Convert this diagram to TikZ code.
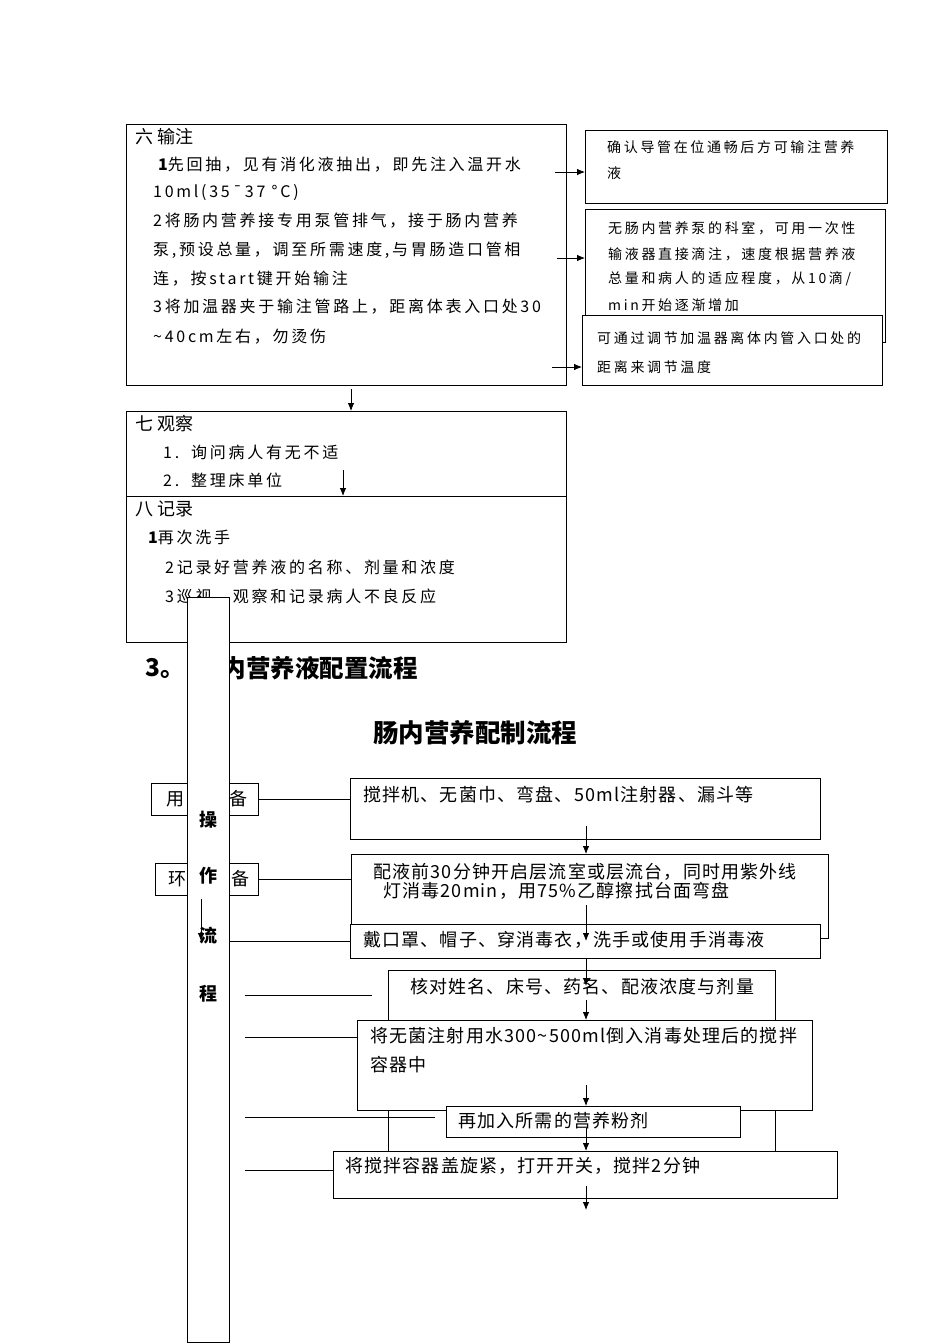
\documentclass[tikz,border=0pt]{standalone}
\usepackage{fontspec}
\usepackage{tikz}
\usetikzlibrary{arrows.meta,positioning}
\newfontfamily\cjk{Noto Sans CJK SC}
\newfontfamily\cjkwide[LetterSpace=17]{Noto Sans CJK SC}
\newfontfamily\cjknote[LetterSpace=19]{Noto Sans CJK SC}
\newfontfamily\cjkbody[LetterSpace=6.5]{Noto Sans CJK SC}

\begin{document}
\begin{tikzpicture}[x=1pt,y=-1pt,
		box/.style={draw,line width=0.8pt,anchor=north west,inner sep=0pt,outer sep=0pt},
		wbox/.style={box,fill=white},
		head/.style={anchor=west,inner sep=0pt,font=\cjk\fontsize{18}{18}\selectfont},
		txt/.style={anchor=west,inner sep=0pt,font=\cjkwide\fontsize{16}{16}\selectfont},
		note/.style={anchor=west,inner sep=0pt,font=\cjknote\fontsize{14}{14}\selectfont},
		body/.style={anchor=west,inner sep=0pt,font=\cjkbody\fontsize{18}{18}\selectfont},
		label/.style={anchor=west,inner sep=0pt,font=\cjkwide\fontsize{18}{18}\selectfont},
		title/.style={inner sep=0pt,font=\cjk\bfseries\fontsize{24.5}{24.5}\selectfont},
		vlabel/.style={inner sep=0pt,font=\cjk\bfseries\fontsize{18}{18}\selectfont},
		arr/.style={-{Latex[length=8pt,width=6.5pt]},line width=0.8pt},
		conn/.style={line width=0.8pt}]
	\useasboundingbox[fill=white] (0,0) rectangle (950,1344);

	\node[box,minimum width=440pt,minimum height=261pt] (infuse) at (126,124) {};
	\node[head] (infuseH) at (135,137) {六 输注};
	\node[txt] (inf1) at (158,165) {{\cjk\bfseries 1}先回抽，见有消化液抽出，即先注入温开水};
	\node[txt] (inf2) at (153,193) {10ml(35¯37 °C)};
	\node[txt] (inf3) at (153,221) {2将肠内营养接专用泵管排气，接于肠内营养};
	\node[txt] (inf4) at (153,250) {泵,预设总量，调至所需速度,与胃肠造口管相};
	\node[txt] (inf5) at (153,279) {连，按start键开始输注};
	\node[txt] (inf6) at (153,307) {3将加温器夹于输注管路上，距离体表入口处30};
	\node[txt] (inf7) at (153,337) {\textasciitilde 40cm左右，勿烫伤};

	\node[box,minimum width=302pt,minimum height=73pt] (noteA) at (585,130) {};
	\node[note] (noteA1) at (607,147) {确认导管在位通畅后方可输注营养};
	\node[note] (noteA2) at (607,173) {液};
	\node[box,minimum width=300pt,minimum height=133pt] (noteB) at (585,209) {};
	\node[note] (noteB1) at (608,228) {无肠内营养泵的科室，可用一次性};
	\node[note] (noteB2) at (608,254) {输液器直接滴注，速度根据营养液};
	\node[note] (noteB3) at (608,279) {总量和病人的适应程度，从10滴/};
	\node[note] (noteB4) at (608,305) {min开始逐渐增加};
	\node[wbox,minimum width=300pt,minimum height=70pt] (noteC) at (582,315) {};
	\node[note,font=\cjknote\fontsize{14}{14}\selectfont] (noteC1) at (597,338) {可通过调节加温器离体内管入口处的};
	\node[note] (noteC2) at (597,367) {距离来调节温度};

	\coordinate (a1) at (555,172);
	\coordinate (a2) at (557,258);
	\coordinate (a3) at (552,367);
	\draw[arr] (a1) -- (a1 -| noteA.west);
	\draw[arr] (a2) -- (a2 -| noteB.west);
	\draw[arr] (a3) -- (a3 -| noteC.west);

	\node[box,minimum width=440pt,minimum height=85pt] (observe) at (126,411) {};
	\node[box,minimum width=440pt,minimum height=146pt] (record) at (126,496) {};
	\node[head] (observeH) at (135,424) {七 观察};
	\node[txt] (obs1) at (163,452) {1.\hspace{12pt}询问病人有无不适};
	\node[txt] (obs2) at (163,480) {2.\hspace{12pt}整理床单位};
	\node[head] (recordH) at (135,509) {八 记录};
	\node[txt] (rec1) at (148,537) {{\cjk\bfseries 1}再次洗手};
	\node[txt] (rec2) at (165,567) {2记录好营养液的名称、剂量和浓度};
	\node[txt] (rec3) at (165,597) {3巡视，观察和记录病人不良反应};

	\coordinate (d1) at (351,389);
	\coordinate (d2) at (343,470);
	\draw[arr] (d1) -- (d1 |- observe.north);
	\draw[arr] (d2) -- (d2 |- record.north);

	\node[title,anchor=west] (secNo) at (145,668) {3。};
	\node[title,anchor=west] (secTitle) at (197,668) {肠内营养液配置流程};
	\node[title,font=\cjk\bfseries\fontsize{25.5}{25.5}\selectfont] (mainTitle) at (475,733) {肠内营养配制流程};

	\node[box,minimum width=107pt,minimum height=32pt] (tools) at (151,783) {};
	\node[label] (toolsL) at (166,799) {用物准备};
	\node[box,minimum width=103pt,minimum height=32pt] (env) at (155,863) {};
	\node[label] (envL) at (168,879) {环境准备};

	\node[box,minimum width=470pt,minimum height=61pt] (items) at (350,778) {};
	\node[body] (itemsL) at (363,795) {搅拌机、无菌巾、弯盘、50ml注射器、漏斗等};
	\node[box,minimum width=477pt,minimum height=84pt] (room) at (351,854) {};
	\node[body] (room1) at (373,872) {配液前30分钟开启层流室或层流台，同时用紫外线};
	\node[body] (room2) at (383,891) {灯消毒20min，用75\%乙醇擦拭台面弯盘};
	\draw[conn] (tools.east) -- (tools.east -| items.west);
	\draw[conn] (env.east) -- (env.east -| room.west);

	\node[wbox,minimum width=42pt,minimum height=745pt] (vert) at (187,597) {};
	\node[vlabel] (v1) at (208,820) {操};
	\node[vlabel] (v2) at (208,876) {作};
	\node[vlabel] (v3) at (208,936) {流};
	\node[vlabel] (v4) at (208,994) {程};

	\node[wbox,minimum width=470pt,minimum height=34pt] (gown) at (350,924) {};
	\node[body] (gownL) at (363,940) {戴口罩、帽子、穿消毒衣，洗手或使用手消毒液};
	\draw[conn] (vert.east |- gown.west) -- (gown.west);
	\coordinate (d3) at (201,899);
	\draw[arr] (d3) -- (d3 |- gown.west);

	\node[box,minimum width=387pt,minimum height=181pt] (check) at (388,970) {};
	\node[body] (checkL) at (410,987) {核对姓名、床号、药名、配液浓度与剂量};
	\node[wbox,minimum width=455pt,minimum height=90pt] (pour) at (357,1020) {};
	\node[body] (pour1) at (370,1036) {将无菌注射用水300\textasciitilde 500ml倒入消毒处理后的搅拌};
	\node[body] (pour2) at (370,1065) {容器中};
	\node[wbox,minimum width=294pt,minimum height=31pt] (powder) at (446,1106) {};
	\node[body] (powderL) at (458,1121) {再加入所需的营养粉剂};
	\node[wbox,minimum width=504pt,minimum height=47pt] (stir) at (333,1151) {};
	\node[body] (stirL) at (345,1166) {将搅拌容器盖旋紧，打开开关，搅拌2分钟};

	\coordinate (e1) at (586,826);
	\coordinate (e2) at (586,905);
	\coordinate (e3) at (586,986);
	\coordinate (e4) at (586,1000);
	\coordinate (e5) at (586,1085);
	\coordinate (e6) at (586,1128);
	\coordinate (e7) at (586,1186);
	\coordinate (e8) at (586,1210);
	\draw[arr] (e1) -- (e1 |- room.north);
	\draw[arr] (e2) -- (e2 |- gown.west);
	\draw[arr] (e3 |- gown.south) -- (e3);
	\draw[arr] (e4) -- (e4 |- pour.north);
	\draw[arr] (e5) -- (e5 |- powder.north);
	\draw[arr] (e6) -- (e6 |- stir.north);
	\draw[arr] (e7) -- (e8);

	\coordinate (f1) at (245,995);
	\coordinate (f2) at (372,995);
	\coordinate (f3) at (245,1037);
	\coordinate (f4) at (245,1117);
	\coordinate (f5) at (435,1117);
	\coordinate (f6) at (245,1170);
	\draw[conn] (f1) -- (f2);
	\draw[conn] (f3) -- (f3 -| pour.west);
	\draw[conn] (f4) -- (f5);
	\draw[conn] (f6) -- (f6 -| stir.west);
\end{tikzpicture}
\end{document}
